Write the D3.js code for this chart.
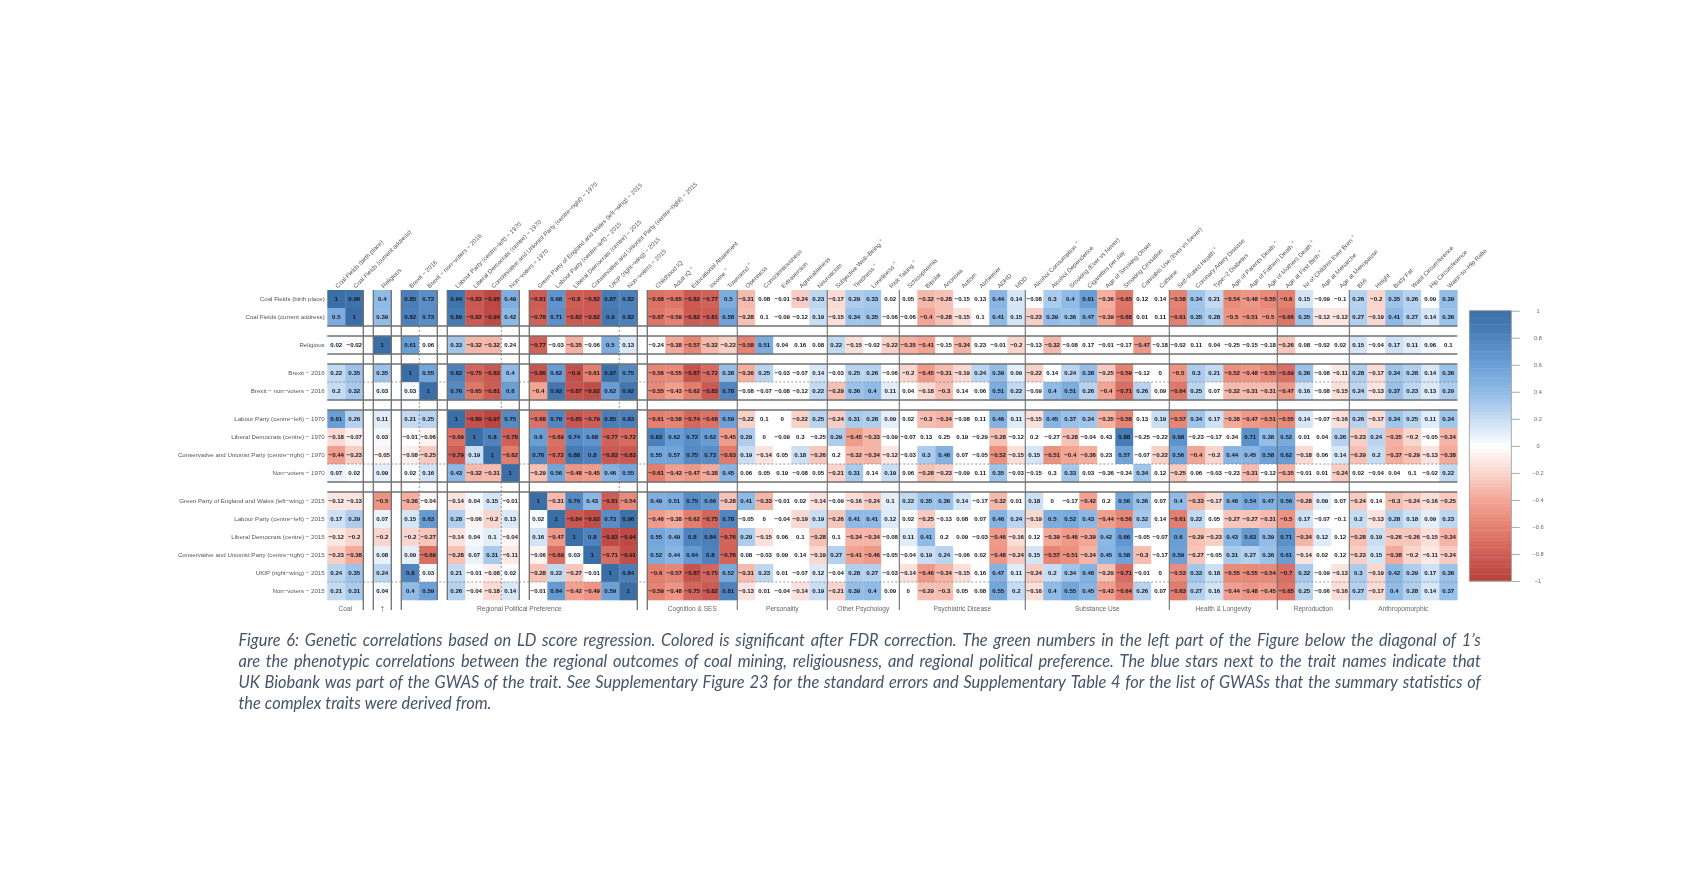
<!DOCTYPE html>
<html>
<head>
<meta charset="utf-8">
<script src="https://cdnjs.cloudflare.com/ajax/libs/d3/7.8.5/d3.min.js"></script>
<style>
html,body{margin:0;padding:0;background:#fff;}
svg{display:block;}
#plot{filter:blur(0.6px);}
#caption{position:absolute;left:238.5px;top:628.5px;width:1242.5px;filter:blur(0.35px);
  font-family:Lato,sans-serif;font-style:italic;font-size:16.4px;line-height:21.2px;color:#44546a;}
#caption .line{display:flex;justify-content:space-between;white-space:nowrap;}
#caption .line.last{justify-content:flex-start;gap:4px;}
text{font-family:"Liberation Sans",Arial,sans-serif;}
</style>
</head>
<body>
<svg id="chart" width="1700" height="878"></svg>
<script>
// ---------- DATA ----------
const rowLabels = ["Coal Fields (birth place)","Coal Fields (current address)","Religious","Brexit − 2016","Brexit − non−voters − 2016",
  "Labour Party (centre−left) − 1970","Liberal Democrats (centre) − 1970","Conservative and Unionist Party (centre−right) − 1970","Non−voters − 1970",
  "Green Party of England and Wales (left−wing) − 2015","Labour Party (centre−left) − 2015","Liberal Democrats (centre) − 2015","Conservative and Unionist Party (centre−right) − 2015","UKIP (right−wing) − 2015","Non−voters − 2015"];
const traitLabels = ["Childhood IQ","Adult IQ*","Educational Attainment","Income*","Townsend*",
  "Openness","Conscientiousness","Extraversion","Agreeableness","Neuroticism",
  "Subjective Well−Being*","Tiredness*","Loneliness*","Risk Taking*",
  "Schizophrenia","Bipolar","Anorexia","Autism","Alzheimer","ADHD","MDD",
  "Alcohol Consumption*","Alcohol Dependence","Smoking (Ever vs Never)","Cigarettes per day","Age of Smoking Onset","Smoking Cessation","Cannabis Use (Ever vs Never)","Caffeine",
  "Self−Rated Health*","Coronary Artery Disease","Type−2 Diabetes","Age of Parents Death*","Age of Fathers Death*","Age of Mothers Death*",
  "Age at First Birth*","Nr of Children Ever Born*","Age at Menarche","Age at Menopause",
  "BMI","Height","Body Fat","Waist Circumference","Hip Circumference","Waist−to−Hip Ratio"];
const groupNames = ["Coal","†","Regional Political Preference","Regional Political Preference","Regional Political Preference","Cognition & SES","Personality","Other Psychology","Psychiatric Disease","Substance Use","Health & Longevity","Reproduction","Anthropomorphic"];
const groupSizes = [2,1,2,4,6,5,5,4,7,8,6,4,6];
const rowBlockSizes = [2,1,2,4,6];

const vCoalBirth = [1,0.96,0.4,0.85,0.72,0.94,-0.83,-0.95,0.49,-0.81,0.68,-0.8,-0.82,0.87,0.82,-0.68,-0.65,-0.82,-0.77,0.5,-0.31,0.08,-0.01,-0.24,0.23,-0.17,0.29,0.33,0.02,0.05,-0.32,-0.28,-0.15,0.13,0.44,0.14,-0.08,0.3,0.4,0.61,-0.36,-0.65,0.12,0.14,-0.58,0.34,0.21,-0.54,-0.48,-0.55,-0.6,0.15,-0.09,-0.1,0.26,-0.2,0.35,0.26,0.09,0.39];
const vCoalCurrent = [0.5,1,0.39,0.82,0.73,0.89,-0.82,-0.94,0.42,-0.78,0.71,-0.82,-0.82,0.9,0.82,-0.67,-0.59,-0.82,-0.81,0.58,-0.28,0.1,-0.09,-0.12,0.19,-0.15,0.34,0.35,-0.06,-0.06,-0.4,-0.28,-0.15,0.1,0.41,0.15,-0.23,0.39,0.36,0.47,-0.39,-0.68,0.01,0.11,-0.61,0.35,0.28,-0.5,-0.51,-0.5,-0.66,0.35,-0.12,-0.12,0.27,-0.19,0.41,0.27,0.14,0.36];
const vReligious = [0.02,-0.02,1,0.61,0.06,0.33,-0.32,-0.32,0.24,-0.77,-0.03,-0.35,-0.06,0.5,0.13,-0.24,-0.38,-0.57,-0.32,-0.22,-0.58,0.51,0.04,0.16,0.08,0.22,-0.15,-0.02,-0.22,-0.35,-0.41,-0.15,-0.34,0.23,-0.01,-0.2,-0.13,-0.32,-0.08,0.17,-0.01,-0.17,-0.47,-0.18,-0.02,0.11,0.04,-0.25,-0.15,-0.18,-0.26,0.08,-0.02,0.02,0.15,-0.04,0.17,0.11,0.06,0.1];
const vBrexit = [0.22,0.35,0.35,1,0.55,0.82,-0.75,-0.83,0.4,-0.86,0.62,-0.9,-0.61,0.97,0.75,-0.56,-0.55,-0.87,-0.72,0.38,-0.36,0.25,-0.03,-0.07,0.14,-0.03,0.25,0.26,-0.06,-0.2,-0.45,-0.31,-0.19,0.24,0.39,0.09,-0.22,0.14,0.24,0.38,-0.25,-0.59,-0.12,0,-0.5,0.3,0.21,-0.52,-0.48,-0.55,-0.69,0.36,-0.08,-0.11,0.28,-0.17,0.34,0.28,0.14,0.36];
const vBrexitNon = [0.2,0.32,0.03,0.03,1,0.76,-0.65,-0.81,0.6,-0.4,0.92,-0.87,-0.92,0.62,0.92,-0.55,-0.43,-0.62,-0.83,0.78,-0.08,-0.07,-0.08,-0.12,0.22,-0.29,0.36,0.4,0.11,0.04,-0.18,-0.3,0.14,0.06,0.51,0.22,-0.09,0.4,0.51,0.26,-0.4,-0.71,0.26,0.09,-0.64,0.25,0.07,-0.32,-0.31,-0.31,-0.47,0.16,-0.08,-0.15,0.24,-0.13,0.37,0.23,0.13,0.29];
const vLab70 = [0.61,0.26,0.11,0.21,0.25,1,-0.89,-0.97,0.75,-0.68,0.78,-0.85,-0.79,0.85,0.83,-0.61,-0.58,-0.74,-0.68,0.59,-0.22,0.1,0,-0.22,0.25,-0.24,0.31,0.28,0.09,0.02,-0.3,-0.34,-0.08,0.11,0.46,0.11,-0.15,0.45,0.37,0.34,-0.35,-0.58,0.13,0.19,-0.57,0.34,0.17,-0.38,-0.47,-0.51,-0.55,0.14,-0.07,-0.16,0.26,-0.17,0.34,0.25,0.11,0.34];
const vLib70 = [-0.18,-0.07,0.03,-0.01,-0.06,-0.69,1,0.8,-0.78,0.6,-0.69,0.74,0.68,-0.77,-0.72,0.83,0.62,0.72,0.62,-0.45,0.29,0,-0.09,0.3,-0.25,0.29,-0.45,-0.33,-0.09,-0.07,0.13,0.25,0.19,-0.29,-0.28,-0.12,0.2,-0.27,-0.28,-0.04,0.43,0.88,-0.25,-0.22,0.68,-0.23,-0.17,0.34,0.71,0.38,0.52,0.01,0.04,0.26,-0.23,0.24,-0.35,-0.2,-0.05,-0.34];
const vCon70 = [-0.44,-0.23,-0.05,-0.08,-0.25,-0.79,0.19,1,-0.62,0.76,-0.72,0.88,0.8,-0.83,-0.83,0.55,0.57,0.75,0.73,-0.63,0.19,-0.14,0.05,0.18,-0.26,0.2,-0.32,-0.34,-0.12,-0.03,0.3,0.46,0.07,-0.05,-0.52,-0.15,0.15,-0.51,-0.4,-0.36,0.23,0.57,-0.07,-0.22,0.56,-0.4,-0.2,0.44,0.45,0.58,0.62,-0.18,0.06,0.14,-0.29,0.2,-0.37,-0.29,-0.13,-0.38];
const vNon70 = [0.07,0.02,0.09,0.02,0.16,0.43,-0.32,-0.31,1,-0.29,0.56,-0.48,-0.45,0.46,0.55,-0.61,-0.43,-0.47,-0.38,0.45,0.06,0.05,0.19,-0.08,0.05,-0.21,0.31,0.14,0.19,0.06,-0.28,-0.23,-0.09,0.11,0.35,-0.03,-0.15,0.3,0.33,0.03,-0.36,-0.34,0.34,0.12,-0.25,0.06,-0.03,-0.23,-0.31,-0.12,-0.35,-0.01,0.01,-0.24,0.02,-0.04,0.04,0.1,-0.02,0.22];
const vGreen15 = [-0.12,-0.13,-0.5,-0.36,-0.04,-0.14,0.04,0.15,-0.01,1,-0.31,0.76,0.43,-0.81,-0.54,0.49,0.51,0.75,0.66,-0.28,0.41,-0.33,-0.01,0.02,-0.14,-0.09,-0.16,-0.24,0.1,0.22,0.35,0.36,0.14,-0.17,-0.32,0.01,0.18,0,-0.17,-0.42,0.2,0.56,0.36,0.07,0.4,-0.33,-0.17,0.46,0.54,0.47,0.56,-0.28,0.09,0.07,-0.24,0.14,-0.3,-0.24,-0.16,-0.25];
const vLab15 = [0.17,0.29,0.07,0.15,0.63,0.28,-0.06,-0.2,0.13,0.02,1,-0.84,-0.92,0.73,0.96,-0.46,-0.38,-0.62,-0.75,0.78,-0.05,0,-0.04,-0.19,0.19,-0.26,0.41,0.41,0.12,0.02,-0.25,-0.13,0.08,0.07,0.46,0.24,-0.19,0.5,0.52,0.43,-0.44,-0.56,0.32,0.14,-0.61,0.22,0.05,-0.27,-0.27,-0.31,-0.5,0.17,-0.07,-0.1,0.2,-0.13,0.28,0.18,0.09,0.23];
const vLib15 = [-0.12,-0.2,-0.2,-0.2,-0.27,-0.14,0.04,0.1,-0.04,0.16,-0.47,1,0.8,-0.93,-0.94,0.55,0.49,0.8,0.84,-0.76,0.29,-0.15,0.06,0.1,-0.28,0.1,-0.34,-0.34,-0.08,0.11,0.41,0.2,0.09,-0.03,-0.46,-0.16,0.12,-0.39,-0.46,-0.39,0.42,0.66,-0.05,-0.07,0.6,-0.29,-0.23,0.43,0.63,0.39,0.71,-0.34,0.12,0.12,-0.28,0.19,-0.26,-0.26,-0.15,-0.34];
const vCon15 = [-0.23,-0.38,0.08,0.09,-0.69,-0.28,0.07,0.31,-0.11,-0.06,-0.69,0.03,1,-0.71,-0.91,0.52,0.44,0.64,0.8,-0.76,0.08,-0.03,0.09,0.14,-0.19,0.27,-0.41,-0.46,-0.05,-0.04,0.19,0.24,-0.06,0.02,-0.48,-0.24,0.15,-0.57,-0.51,-0.34,0.45,0.58,-0.3,-0.17,0.59,-0.27,-0.05,0.31,0.27,0.36,0.61,-0.14,0.02,0.12,-0.23,0.15,-0.38,-0.2,-0.11,-0.24];
const vUkip15 = [0.24,0.35,0.24,0.8,0.03,0.21,-0.01,-0.08,0.02,-0.28,0.22,-0.27,-0.01,1,0.84,-0.6,-0.57,-0.87,-0.75,0.52,-0.31,0.23,0.01,-0.07,0.12,-0.04,0.28,0.27,-0.03,-0.14,-0.46,-0.34,-0.15,0.16,0.47,0.11,-0.24,0.2,0.34,0.46,-0.29,-0.71,-0.01,0,-0.53,0.33,0.18,-0.55,-0.55,-0.54,-0.7,0.32,-0.09,-0.13,0.3,-0.19,0.42,0.29,0.17,0.36];
const vNon15 = [0.21,0.31,0.04,0.4,0.59,0.26,-0.04,-0.18,0.14,-0.01,0.64,-0.42,-0.49,0.59,1,-0.59,-0.48,-0.75,-0.82,0.81,-0.13,0.01,-0.04,-0.14,0.19,-0.21,0.39,0.4,0.09,0,-0.29,-0.3,0.05,0.08,0.55,0.2,-0.16,0.4,0.55,0.45,-0.43,-0.64,0.26,0.07,-0.63,0.27,0.16,-0.44,-0.48,-0.45,-0.65,0.25,-0.06,-0.16,0.27,-0.17,0.4,0.28,0.14,0.37];
const matrix = [vCoalBirth,vCoalCurrent,vReligious,vBrexit,vBrexitNon,vLab70,vLib70,vCon70,vNon70,vGreen15,vLab15,vLib15,vCon15,vUkip15,vNon15];

// column indexes that are NOT significant in each row (drawn white)
const nsCoalBirth = [21,22,28,29,32,33,36,42,43,52,53,58];
const nsCoalCurrent = [21,22,23,28,29,33,42,43];
const nsReligious = [4,8,10,12,15,22,23,24,27,31,33,34,36,38,39,40,41,43,44,45,46,47,48,49,51,52,53,55,59];
const nsBrexit = [22,23,25,28,37,42,43,52];
const nsBrexitNon = [20,21,22,23,29,32,33,36,43,46,52];
const nsLab70 = [21,22,29,32,33,42,52];
const nsLib70 = [21,22,23,24,28,29,30,31,32,33,35,36,37,39,40,42,43,45,46,47,51,52,58];
const nsCon70 = [22,25,29,32,33,40,42,52];
const nsNon70 = [20,21,22,23,24,27,29,32,33,35,36,37,39,40,41,43,45,46,47,49,51,52,54,55,56,57,58];
const nsGreen15 = [22,23,25,33,35,37,38,40,43,53,55];
const nsLab15 = [20,21,22,29,31,32,33,43,46,52,53];
const nsLib15 = [22,23,25,28,31,32,33,36,42,43,53];
const nsCon15 = [20,21,22,23,28,29,32,33,43,46,52,53];
const nsUkip15 = [22,23,25,28,33,42,43,52];
const nsNon15 = [21,22,28,29,32,33,43,52];
const nonSignificant = [nsCoalBirth,nsCoalCurrent,nsReligious,nsBrexit,nsBrexitNon,nsLab70,nsLib70,nsCon70,nsNon70,nsGreen15,nsLab15,nsLib15,nsCon15,nsUkip15,nsNon15];

const colorStops = [-1,-0.8,-0.6,-0.4,-0.2,0,0.2,0.4,0.6,0.8,1];
const colorRange = ["#b8423e","#cd5d55","#e5806f","#f3a594","#f9d6cd","#ffffff","#c6dcf2","#90bbe6","#6a9fd6","#4f83bd","#3a6ea6"];
const legendTicks = [1,0.8,0.6,0.4,0.2,0,-0.2,-0.4,-0.6,-0.8,-1];
const captionLines = [
 "Figure 6: Genetic correlations based on LD score regression. Colored is significant after FDR correction. The green numbers in the left part of the Figure below the diagonal of 1’s",
 "are the phenotypic correlations between the regional outcomes of coal mining, religiousness, and regional political preference. The blue stars next to the trait names indicate that",
 "UK Biobank was part of the GWAS of the trait. See Supplementary Figure 23 for the standard errors and Supplementary Table 4 for the list of GWASs that the summary statistics of",
 "the complex traits were derived from."];

// ---------- LAYOUT ----------
const X0=327.3, Y0=290, CELL=18, GAP=10, XEND=1457.3;
const root=d3.select("#chart");
const svg=root.append("g").attr("id","plot");
const colLabels=rowLabels.concat(traitLabels);
const colPos=d3.scaleLinear().domain([0,1]).range([0,CELL]);
const color=d3.scaleLinear().domain(colorStops).range(colorRange).clamp(true);

const colGroup=[]; groupSizes.forEach((n,g)=>{for(let i=0;i<n;i++)colGroup.push(g);});
const x=c=>X0+colPos(c)+GAP*Math.min(colGroup[c],5);
const rowGroup=[]; rowBlockSizes.forEach((n,g)=>{for(let i=0;i<n;i++)rowGroup.push(g);});
const y=r=>Y0+colPos(r)+GAP*rowGroup[r];
const groupStart=g=>d3.sum(groupSizes.slice(0,g));
const rowStart=g=>d3.sum(rowBlockSizes.slice(0,g));

// cells
const cells=[];
matrix.forEach((row,r)=>row.forEach((v,c)=>cells.push({r,c,v,sig:!nonSignificant[r].includes(c)})));
svg.append("g").selectAll("rect").data(cells).join("rect")
  .attr("x",d=>x(d.c)).attr("y",d=>y(d.r)).attr("width",CELL+0.3).attr("height",CELL+0.3)
  .attr("fill",d=>d.sig?color(d.v):"#fff");

// dashed separators
const dashG=svg.append("g").attr("stroke","#8c8c8c").attr("stroke-width",0.9).attr("stroke-dasharray","2,2").attr("fill","none");
[[3,1],[5,3],[9,5]].forEach(([s,k])=>{const xx=x(s)+colPos(k);
  dashG.append("line").attr("x1",xx).attr("x2",xx).attr("y1",Y0).attr("y2",600);});
[[3,1],[5,3],[9,5]].forEach(([s,k])=>{const yy=y(s)+colPos(k);
  dashG.append("line").attr("x1",X0).attr("x2",XEND).attr("y1",yy).attr("y2",yy);});

// solid grid lines
const lineG=svg.append("g").attr("stroke","#707070").attr("fill","none");
rowBlockSizes.forEach((n,g)=>{
  const top=y(rowStart(g)), bot=top+colPos(n);
  if(g>0) lineG.append("line").attr("x1",X0).attr("x2",XEND).attr("y1",top).attr("y2",top).attr("stroke-width",1.5);
  if(g<rowBlockSizes.length-1) lineG.append("line").attr("x1",X0).attr("x2",XEND).attr("y1",bot).attr("y2",bot).attr("stroke-width",1.5);
});
groupSizes.forEach((n,g)=>{
  const s=x(groupStart(g)), e=s+colPos(n);
  const longStart = g<=2 || g>=5;
  const longEnd = g<=1 || g>=4;
  if(g>0) lineG.append("line").attr("x1",s).attr("x2",s).attr("y1",Y0).attr("y2",longStart?610:600).attr("stroke-width",g<=5?1.3:1.1);
  if(g<5) lineG.append("line").attr("x1",e).attr("x2",e).attr("y1",Y0).attr("y2",longEnd?610:600).attr("stroke-width",1.3);
});

// row labels
svg.append("g").selectAll("text").data(rowLabels).join("text")
  .attr("x",X0-2.6).attr("y",(d,i)=>y(i)+colPos(0.5)+2.2)
  .attr("text-anchor","end").attr("font-size",6.15).attr("fill","#555").text(d=>d);

// column labels, blue star as separate tspan
const colText=svg.append("g").selectAll("text").data(colLabels).join("text")
  .attr("transform",(d,i)=>`translate(${x(i)+colPos(0.5)+1.5},288.5) rotate(-45)`)
  .attr("font-size",6.15).attr("fill","#555");
colText.append("tspan").text(d=>d.replace("*",""));
colText.filter(d=>d.includes("*")).append("tspan").attr("fill","#5b9bd5").attr("font-size",6).attr("dx",2).attr("dy",-1).text("*");

// cell values
svg.append("g").selectAll("text").data(cells).join("text")
  .attr("x",d=>x(d.c)+colPos(0.5)).attr("y",d=>y(d.r)+colPos(0.5)+2.1)
  .attr("text-anchor","middle").attr("font-size",6.1).attr("font-weight","bold").attr("fill","#12151f")
  .text(d=>String(d.v).replace("-","−"));

// group labels
const groupSpans=[];
groupNames.forEach((name,g)=>{
  const last=groupSpans[groupSpans.length-1];
  const s=x(groupStart(g)), e=s+colPos(groupSizes[g]);
  if(last&&last.name===name) last.e=e; else groupSpans.push({name,s,e});
});
svg.append("g").selectAll("text").data(groupSpans).join("text")
  .attr("x",d=>(d.s+d.e)/2).attr("y",611).attr("text-anchor","middle")
  .attr("font-size",6.6).attr("fill","#666").text(d=>d.name);

// colour bar
const legendY=d3.scaleLinear().domain([-1,1]).range([581,310.7]);
const bins=d3.range(-1,1,0.025);
svg.append("g").selectAll("rect").data(bins).join("rect")
  .attr("x",1469.3).attr("width",42).attr("y",d=>legendY(d+0.025)).attr("height",d=>legendY(d)-legendY(d+0.025)+0.4)
  .attr("fill",d=>color(d+0.0125));
svg.append("rect").attr("x",1469.3).attr("y",310.7).attr("width",42).attr("height",270.3).attr("fill","none").attr("stroke","#9a9a9a").attr("stroke-width",0.8);
const axis=svg.append("g").attr("transform","translate(1511.3,0)")
  .call(d3.axisRight(legendY).tickValues(legendTicks).tickSize(8.5).tickFormat(d=>String(d).replace("-","−")));
axis.select(".domain").remove();
axis.selectAll("line").attr("stroke","#aaa").attr("stroke-width",1);
axis.selectAll("text").attr("x",26.7).attr("text-anchor","middle").attr("font-size",5.6).attr("fill","#666").attr("font-family",'"Liberation Sans",Arial,sans-serif');

// caption: justified lines (each word a flex item), last line left-aligned
const capLines=d3.select("body").append("div").attr("id","caption")
  .selectAll("div").data(captionLines).join("div")
  .attr("class",(d,i)=>i===captionLines.length-1?"line last":"line");
capLines.selectAll("span").data(d=>d.split(" ")).join("span").text(d=>d);
</script>
</body>
</html>
